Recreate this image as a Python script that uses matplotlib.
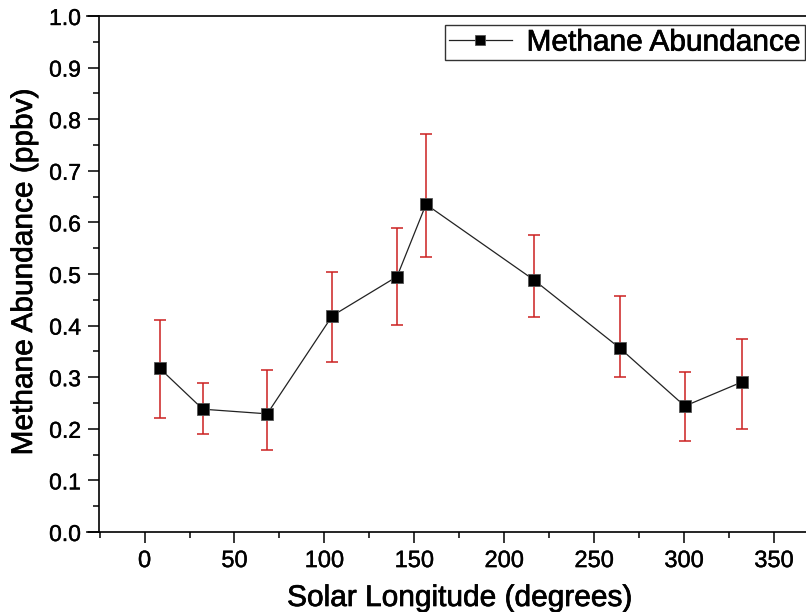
import matplotlib
matplotlib.use("Agg")
import matplotlib.pyplot as plt
import matplotlib.patheffects as pe
from matplotlib.ticker import MultipleLocator
import numpy as np

plt.rcParams['font.family'] = ['Liberation Sans', 'DejaVu Sans']

# Data
solar_longitude = [8.5, 32.4, 68.2, 104.4, 140.4, 156.5, 216.3, 264.4, 300.4, 332.4]
methane = [0.317, 0.238, 0.229, 0.419, 0.495, 0.635, 0.489, 0.356, 0.244, 0.291]
err_upper_bound = [0.411, 0.289, 0.313, 0.504, 0.590, 0.771, 0.576, 0.457, 0.311, 0.375]
err_lower_bound = [0.221, 0.190, 0.159, 0.329, 0.402, 0.533, 0.417, 0.300, 0.177, 0.199]
x_ticks = [0, 50, 100, 150, 200, 250, 300, 350]
y_ticks = [0.0, 0.1, 0.2, 0.3, 0.4, 0.5, 0.6, 0.7, 0.8, 0.9, 1.0]

W, H = 806, 612
fig = plt.figure(figsize=(W / 100, H / 100), dpi=100)
ax = fig.add_axes([87 / W, (H - 532) / H, 1 - 87 / W, (532 - 16) / H])

y = np.array(methane)
yerr = np.array([y - np.array(err_lower_bound), np.array(err_upper_bound) - y])

ax.errorbar(solar_longitude, methane, yerr=yerr, fmt='none', ecolor='#cc2020',
            elinewidth=1.1, capsize=4.5, capthick=1.1, zorder=2)
ax.plot(solar_longitude, methane, color='#222222', lw=0.9, marker='s',
        markersize=9, markerfacecolor='black', markeredgecolor='#555555',
        markeredgewidth=0.6, zorder=3, label='Methane Abundance')

ax.set_xlim(-32, 367.8)
ax.set_ylim(0.0, 1.0)
ax.set_xticks(x_ticks)
ax.set_xticklabels([str(v) for v in x_ticks])
ax.set_yticks(y_ticks)
ax.set_yticklabels([f"{v:.1f}" for v in y_ticks])
ax.xaxis.set_minor_locator(MultipleLocator(25))
ax.yaxis.set_minor_locator(MultipleLocator(0.05))

ax.spines['right'].set_visible(False)
ax.spines['left'].set_position(('axes', 12 / (W - 87)))
for s in ['left', 'bottom', 'top']:
    ax.spines[s].set_linewidth(1.2)
    ax.spines[s].set_color('black')

ax.tick_params(axis='both', which='major', direction='out', length=8, width=1.1,
               color='black', top=False, right=False)
ax.tick_params(axis='both', which='minor', direction='out', length=4.5, width=1.1,
               color='black', top=False, right=False)
ax.tick_params(axis='y', which='major', labelsize=16.5, pad=5)
ax.tick_params(axis='x', which='major', labelsize=17, pad=5)

stroke = [pe.withStroke(linewidth=0.5, foreground='black')]

ax.set_xlabel('Solar Longitude (degrees)', fontsize=21.5, path_effects=stroke)
ax.xaxis.set_label_coords((460 - 87) / (W - 87), (532 - 584) / 516)
ax.set_ylabel('Methane Abundance (ppbv)', fontsize=21.5, path_effects=stroke)
ax.yaxis.set_label_coords((38 - 87) / (W - 87), 0.505)

for lab in ax.get_xticklabels() + ax.get_yticklabels():
    lab.set_path_effects([pe.withStroke(linewidth=0.3, foreground='black')])

leg = ax.legend(loc='upper right', bbox_to_anchor=(805 / W, (H - 25) / H),
                bbox_transform=fig.transFigure, borderaxespad=0, fontsize=21.5,
                frameon=True, fancybox=False, edgecolor='black',
                handlelength=2.1, handletextpad=0.5, borderpad=0.12,
                markerscale=0.8)
leg.get_frame().set_linewidth(1.0)
for t in leg.get_texts():
    t.set_path_effects(stroke)

fig.savefig('out.png', dpi=100)
